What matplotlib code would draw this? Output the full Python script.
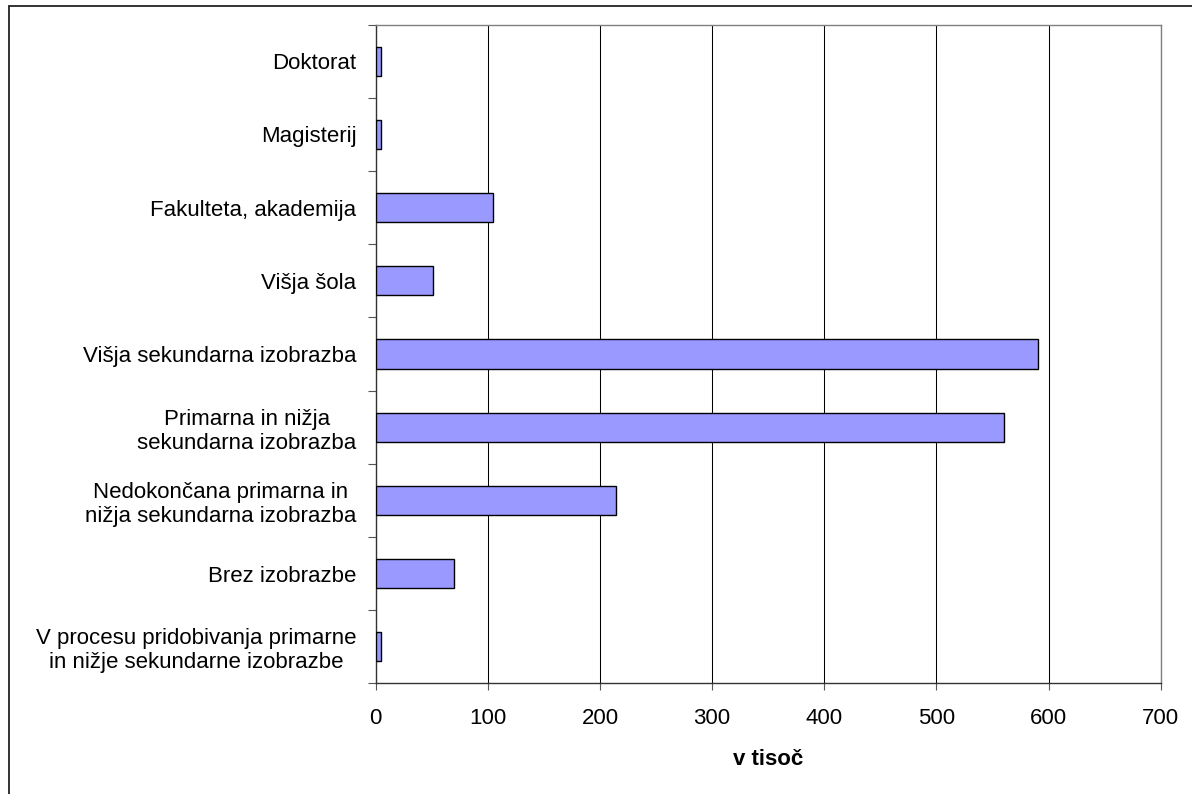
import matplotlib

matplotlib.use("Agg")
import matplotlib.pyplot as plt
import numpy as np
from matplotlib.patches import Rectangle

plt.rcParams["font.family"] = ["Liberation Sans", "DejaVu Sans"]

# education levels, listed bottom to top
categories = [
    "V procesu pridobivanja primarne\nin nižje sekundarne izobrazbe",
    "Brez izobrazbe",
    "Nedokončana primarna in\nnižja sekundarna izobrazba",
    "Primarna in nižja\nsekundarna izobrazba",
    "Višja sekundarna izobrazba",
    "Višja šola",
    "Fakulteta, akademija",
    "Magisterij",
    "Doktorat",
]
# population in thousands
values = [5, 70, 214, 560, 591, 51, 105, 5, 5]
x_ticks = [0, 100, 200, 300, 400, 500, 600, 700]
x_label = "v tisoč"

W, H = 1192, 794
fig = plt.figure(figsize=(W / 100, H / 100), dpi=100)
ax = fig.add_axes([375.7 / W, 1 - 683.3 / H, (1160.7 - 375.7) / W, (683.3 - 24.7) / H])

pos = np.arange(len(categories))
ax.barh(pos, values, height=0.4, color="#9999FF", edgecolor="black",
        linewidth=1.0, zorder=3)

ax.set_xlim(0, 700)
ax.set_ylim(-0.5, len(categories) - 0.5)

# vertical gridlines at the major x ticks
ax.set_xticks(x_ticks)
ax.set_xticklabels([str(t) for t in x_ticks])
ax.xaxis.grid(True, color="black", linewidth=0.75, zorder=0)
ax.tick_params(axis="x", direction="out", length=5, width=0.8,
               color="#555555", labelsize=16, pad=13)

# tick marks sit on category boundaries, labels at category centres
ax.set_yticks(np.arange(-0.5, len(categories), 1.0))
ax.set_yticklabels([])
ax.set_yticks(pos, minor=True)
ax.set_yticklabels(categories, minor=True, fontsize=16, ha="right",
                   multialignment="center")
ax.tick_params(axis="y", which="major", direction="out", length=6,
               width=0.8, color="#555555")
ax.tick_params(axis="y", which="minor", length=0, pad=14)

ax.set_xlabel(x_label, fontsize=16, fontweight="bold", labelpad=14)

for side in ("left", "bottom"):
    ax.spines[side].set_color("#333333")
    ax.spines[side].set_linewidth(1.0)
for side in ("top", "right"):
    ax.spines[side].set_color("#808080")
    ax.spines[side].set_linewidth(1.0)

# chart-area border, running off the right and bottom edges
fig.patches.append(Rectangle((9 / W, -0.1), 1.2, 1.1 - 6.5 / H,
                             transform=fig.transFigure, fill=False,
                             edgecolor="#222222", linewidth=1.3))

fig.savefig("out.png", dpi=100)
